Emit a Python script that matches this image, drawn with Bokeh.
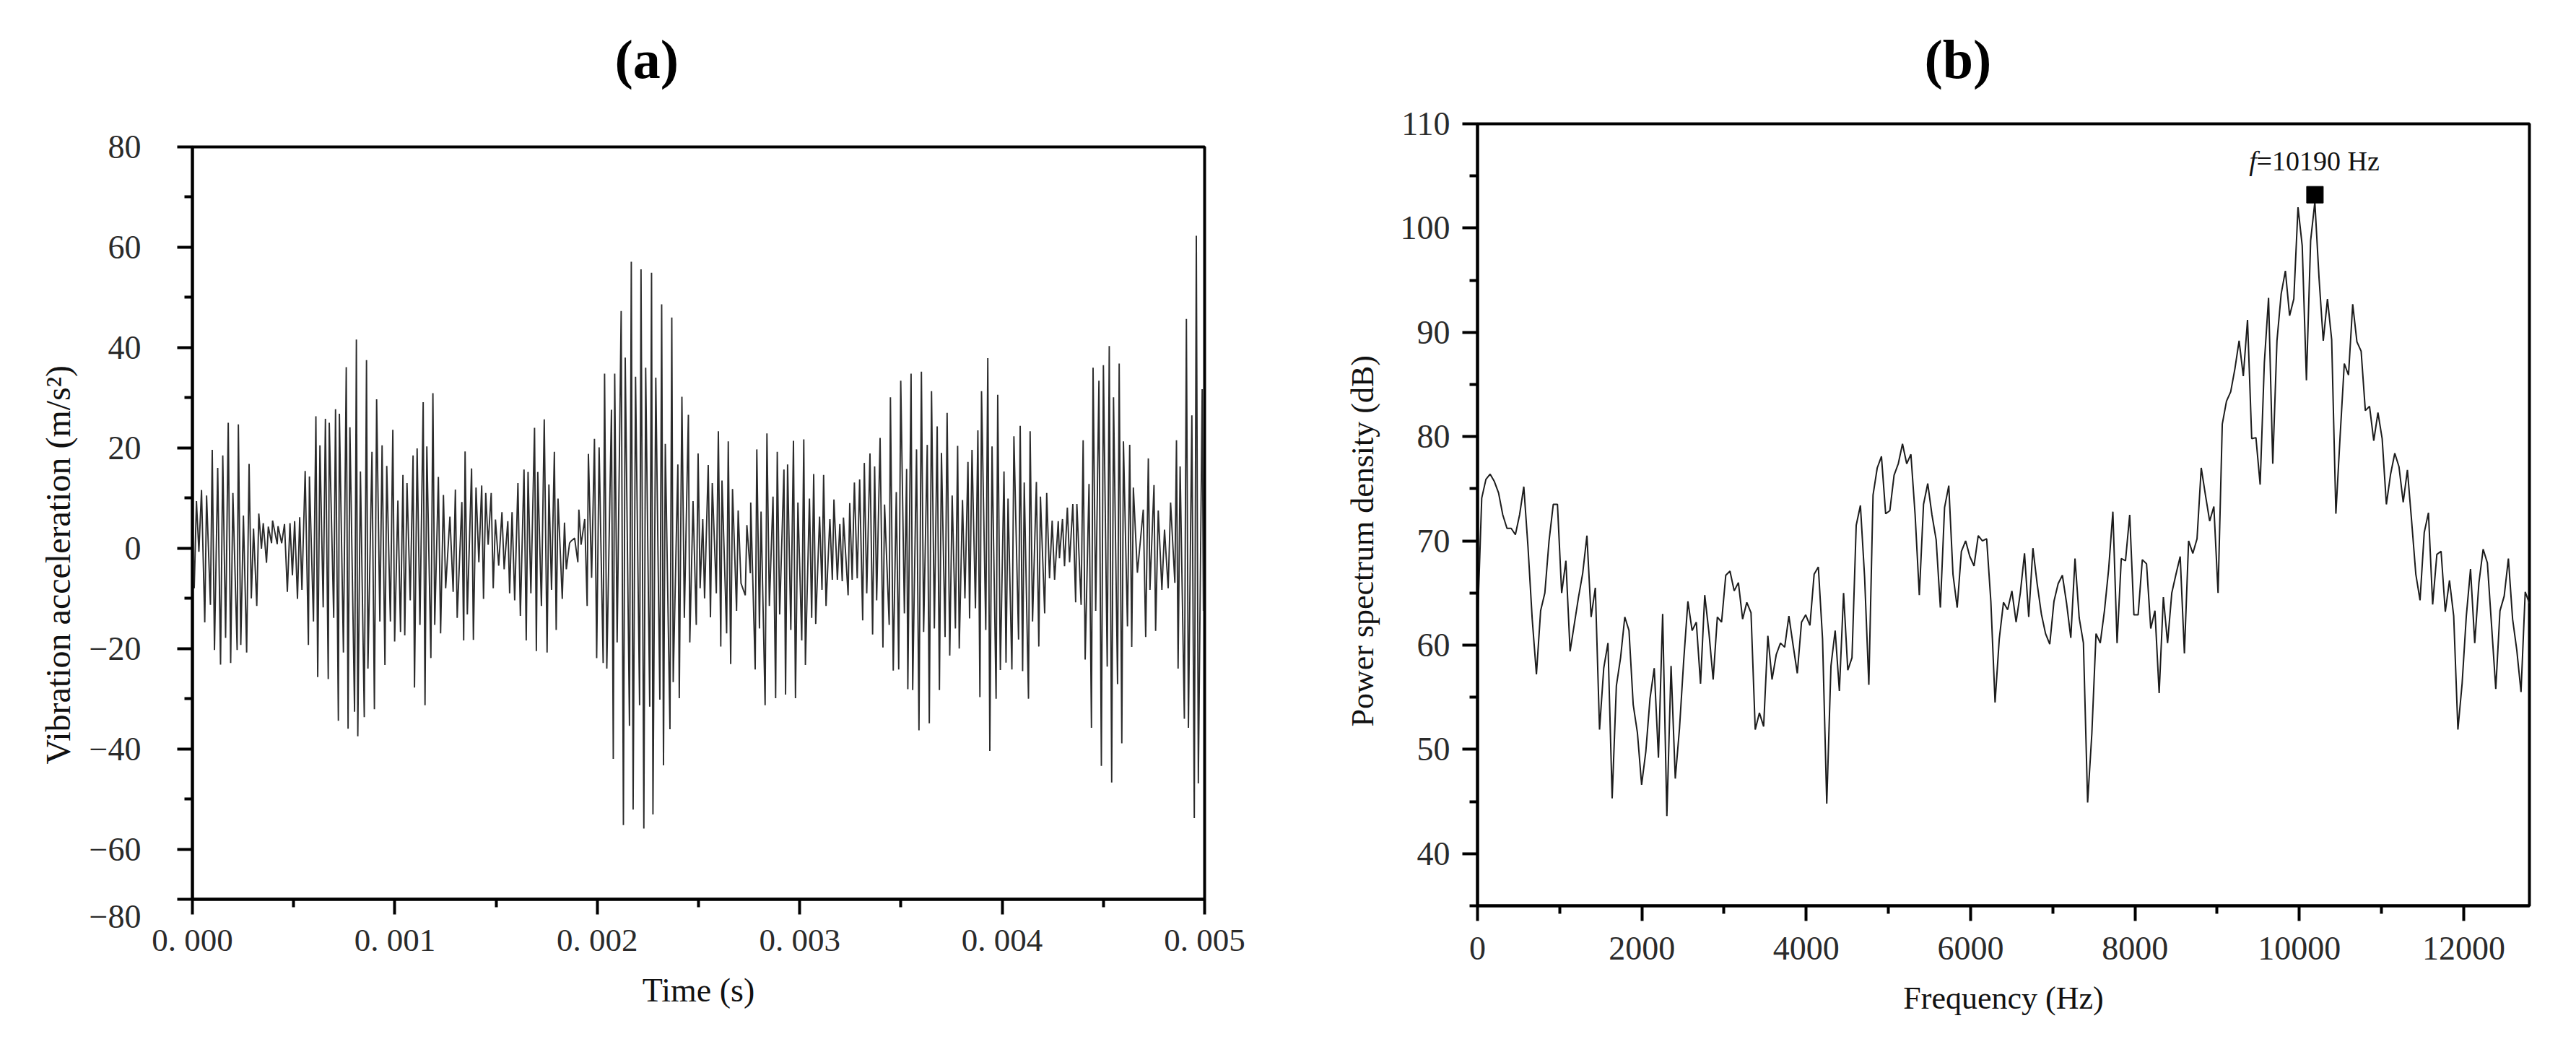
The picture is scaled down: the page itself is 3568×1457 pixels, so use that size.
#! /usr/bin/env python3
# Vibration signal (a) and its power spectrum (b).

from bokeh.core.properties import value
from bokeh.embed import file_html
from bokeh.layouts import row
from bokeh.models import FixedTicker, Title
from bokeh.plotting import figure
from bokeh.resources import INLINE

SERIF = "Liberation Serif"

# (a) upper and lower turning points of the acceleration signal
peak_us = [
    20, 45, 70, 98, 125, 150, 177, 200, 227, 252,
    280, 302, 328, 350, 375, 396, 423, 455, 482, 505,
    530, 557, 578, 610, 630, 657, 676, 707, 726, 760,
    778, 810, 830, 860, 887, 910, 937, 960, 990, 1015,
    1040, 1060, 1090, 1110, 1140, 1158, 1188, 1215, 1240, 1272,
    1299, 1331, 1347, 1379, 1401, 1429, 1449, 1476, 1497, 1529,
    1558, 1579, 1608, 1638, 1658, 1690, 1706, 1738, 1761, 1788,
    1806, 1838, 1863, 1888, 1909, 1938, 1956, 1986, 2009, 2036,
    2070, 2086, 2118, 2138, 2168, 2189, 2216, 2239, 2268, 2289,
    2318, 2336, 2368, 2398, 2418, 2450, 2473, 2498, 2521, 2548,
    2568, 2598, 2616, 2647, 2668, 2696, 2739, 2758, 2788, 2809,
    2838, 2868, 2889, 2922, 2940, 2969, 2991, 3020, 3048, 3069,
    3098, 3118, 3149, 3169, 3198, 3216, 3247, 3270, 3296, 3319,
    3347, 3370, 3397, 3419, 3448, 3477, 3499, 3528, 3550, 3577,
    3601, 3630, 3651, 3679, 3700, 3728, 3753, 3780, 3804, 3831,
    3851, 3880, 3898, 3929, 3950, 3978, 4009, 4029, 4058, 4089,
    4109, 4138, 4169, 4189, 4220, 4247, 4277, 4298, 4322, 4349,
    4369, 4400, 4429, 4449, 4478, 4500, 4529, 4550, 4578, 4599,
    4630, 4648, 4697, 4722, 4750, 4771, 4802, 4832, 4861, 4879,
    4910, 4937, 4959, 4988,
]
peak_accel = [
    9.4, 11.6, 10.5, 19.6, 16, 18.5, 25, 11, 24.7, 6.5,
    16.8, 3.9, 6.9, 5, 4.3, 5.5, 4.4, 4.8, 5, 5.4,
    6.2, 15.4, 14.3, 26.3, 20.5, 25.8, 25, 27.7, 26.8, 36.1,
    24.1, 41.6, 15.3, 37.5, 19.2, 29.7, 20.5, 16.4, 23.6, 9.5,
    14.6, 13, 18.5, 19.9, 29.1, 20.3, 30.9, 14.2, 10.6, 6.3,
    11.7, 9.2, 19.3, 15.9, 12.1, 12.5, 11, 11, 5.7, 7.2,
    5.4, 7.2, 13, 15.7, 15.2, 24, 15.2, 25.7, 12.7, 19.2,
    9.9, 5.1, 1, 2, 7.7, 5.8, 18.8, 21.8, 20.1, 34.8,
    27.6, 34.8, 47.3, 38, 57.1, 34.2, 55.6, 36, 54.9, 34,
    48.6, 20.8, 46, 16.7, 30.2, 26.6, 9.4, 18.9, 5.8, 16.6,
    13, 23.3, 13.5, 21.3, 11.8, 7.5, 4.6, 9.1, 19.7, 7.3,
    22.9, 10.3, 19.2, 15.7, 16.7, 21.4, 9.1, 21.7, 9.9, 14.8,
    6.3, 14.6, 5.8, 9.7, 4.8, 6.1, 9, 13.1, 13.7, 17,
    18.9, 16.3, 22, 8.7, 30.1, 11.2, 33.4, 15.8, 34.8, 19.7,
    35.2, 20.6, 31.3, 24.3, 19, 27, 10.5, 20.4, 9.6, 17.2,
    19.6, 23.5, 31.3, 37.9, 20.3, 30.6, 15.3, 9.9, 22.3, 24.4,
    13.1, 23.3, 13.2, 10.3, 11, 5.5, 5.4, 5.8, 8.1, 8.8,
    8.8, 21.5, 12.8, 36, 33.4, 36.5, 40.3, 30.1, 36.8, 21.3,
    20.6, 12.1, 7.7, 17.9, 12.6, 7.5, 3.7, 9.1, 21.5, 16.3,
    45.7, 26.5, 62.3, 31.7,
]
trough_us = [
    9, 32, 61, 89, 109, 139, 164, 189, 221, 239,
    268, 291, 318, 341, 366, 391, 419, 441, 469, 494,
    519, 541, 573, 598, 619, 646, 671, 698, 721, 746,
    769, 801, 817, 849, 867, 899, 926, 951, 978, 999,
    1028, 1049, 1076, 1097, 1124, 1149, 1178, 1197, 1226, 1251,
    1288, 1308, 1340, 1358, 1388, 1415, 1438, 1461, 1486, 1513,
    1540, 1567, 1592, 1620, 1649, 1672, 1699, 1724, 1752, 1774,
    1797, 1827, 1847, 1870, 1904, 1920, 1950, 1972, 1997, 2029,
    2047, 2079, 2098, 2129, 2159, 2177, 2209, 2230, 2259, 2275,
    2309, 2327, 2359, 2375, 2405, 2430, 2457, 2489, 2508, 2530,
    2559, 2588, 2610, 2639, 2659, 2688, 2710, 2731, 2756, 2780,
    2801, 2829, 2850, 2881, 2901, 2930, 2956, 2979, 3010, 3028,
    3059, 3079, 3110, 3130, 3161, 3186, 3210, 3239, 3259, 3284,
    3311, 3331, 3360, 3380, 3411, 3442, 3462, 3489, 3517, 3534,
    3558, 3589, 3612, 3640, 3665, 3690, 3718, 3741, 3769, 3788,
    3816, 3839, 3868, 3890, 3919, 3939, 3970, 3991, 4019, 4048,
    4081, 4101, 4130, 4150, 4181, 4210, 4234, 4259, 4283, 4308,
    4333, 4363, 4390, 4410, 4441, 4462, 4490, 4519, 4541, 4570,
    4591, 4619, 4640, 4668, 4709, 4730, 4758, 4789, 4820, 4853,
    4869, 4900, 4920, 4949, 4969, 4994,
]
trough_accel = [
    -8, -0.7, -14.8, -11.3, -20.3, -23.2, -17.9, -22.9, -20.3, -19.3,
    -20.8, -10, -11.5, -0.1, -2.9, 1, 0.8, 1, -8.7, -5.4,
    -10.1, -8.3, -19.3, -14.6, -25.7, -11.8, -26.1, -13.9, -34.4, -20.8,
    -36, -32.6, -37.5, -33.7, -24, -32.1, -14.6, -23.3, -14.6, -18.6,
    -16.7, -17.4, -10.4, -27.8, -15.3, -31.3, -21.9, -15.3, -17, -8,
    -8.7, -13.9, -18.4, -13.2, -18.3, -2.8, -10.1, 0.7, -8, -3.5,
    -4.2, -9, -10.4, -13.5, -18.4, -9, -20.5, -11.5, -20.8, -8.3,
    -16.3, -10.1, -4.2, 1.4, -2.8, 0.7, -11.5, -5.9, -21.9, -22.9,
    -24, -42, -18.8, -55.2, -35.4, -52.1, -31.3, -55.9, -31.6, -53.1,
    -30.2, -43.3, -36.1, -26.7, -29.9, -13.9, -18.8, -15.3, -8, -10,
    -13.8, -9, -19.6, -17, -23.1, -12.5, -7, -9.4, -5, -24.2,
    -16, -31.3, -11.5, -29.9, -13.2, -29.2, -16.3, -29.9, -18.4, -23.3,
    -13.9, -15.1, -8.3, -11.5, -6.3, -6.3, -6.6, -9.4, -6.3, -6,
    -14.4, -9, -17.2, -10.4, -19.8, -15.3, -24.4, -24.2, -13, -28.1,
    -28.3, -36.3, -16.7, -34.9, -16, -28.3, -17.7, -21.4, -16, -20,
    -10, -14, -12, -29.7, -16.3, -40.4, -30, -24.3, -22.8, -24.2,
    -18.2, -24.5, -30, -14.6, -19.6, -13, -6, -6.3, -2, -3.6,
    -2.8, -10.8, -11.3, -22.2, -35.8, -12.5, -43.4, -23.6, -46.7, -27.1,
    -38.9, -15.6, -19.7, -4.9, -17.7, -8.3, -16.5, -8.3, -8, -6.9,
    -24, -34, -35.8, -53.8, -46.9, -12.5,
]
time_ticks = [0, 0.001, 0.002, 0.003, 0.004, 0.005]
time_minor = [0.0005, 0.0015, 0.0025, 0.0035, 0.0045]
accel_ticks = [-70, -60, -40, -20, 0, 20, 40, 60, 80]
accel_minor = [-50, -30, -10, 10, 30, 50, 70]

# (b) spectrum, one value per 51.2 Hz bin
psd_bin_hz = 51.2
psd_db = [
    62, 74.1, 75.9, 76.4, 75.7, 74.6, 72.5, 71.2, 71.2, 70.6,
    72.5, 75.2, 69.4, 62.5, 57.2, 63.3, 65, 70, 73.5, 73.5,
    65, 68.1, 59.4, 62, 64.6, 66.9, 70.5, 62.7, 65.5, 51.9,
    57.8, 60.2, 45.3, 56.1, 58.8, 62.7, 61.4, 54.3, 51.6, 46.6,
    49.8, 54.9, 57.8, 49.2, 63, 43.6, 58, 47.2, 52, 58.5,
    64.2, 61.4, 62.2, 56.3, 64.8, 61.2, 56.7, 62.7, 62.2, 66.7,
    67.1, 65.2, 66, 62.5, 64.1, 63.1, 51.9, 53.5, 52.2, 60.9,
    56.7, 59.1, 60.2, 59.8, 62.8, 60, 57.3, 62.2, 62.9, 61.9,
    66.8, 67.5, 60.6, 44.8, 58, 61.4, 55.6, 65, 57.6, 58.8,
    71.5, 73.4, 66.5, 56.2, 74.4, 77, 78.1, 72.6, 72.9, 76.3,
    77.4, 79.3, 77.4, 78.3, 72.5, 64.8, 73.5, 75.5, 72.5, 70.1,
    63.6, 73.2, 75.3, 66.8, 63.6,
    69, 70, 68.5, 67.6, 70.5, 70, 70.2, 64.2, 54.5, 60.6,
    64.1, 63.4, 65.2, 62.2, 65, 68.8, 62.7, 69.3, 65.9, 63,
    61.1, 60.1, 64.2, 65.9, 66.7, 64, 60.7, 68.3, 62.6, 60.2,
    44.9, 51.5, 61.1, 60.2, 63.3, 67.3, 72.8, 60.2, 68.3, 68.1,
    72.5, 62.9, 62.9, 68.2, 67.8, 61.6, 63.3, 55.4, 64.6, 60.2,
    65, 66.8, 68.5, 59.2, 70, 68.8, 70.2, 77, 74.4, 71.9,
    73.3, 65, 81.2, 83.4, 84.3, 86.5, 89.2, 85.8, 91.2, 79.8,
    79.9, 75.4, 87.1, 93.3, 77.4, 89.2, 93.7, 95.9, 91.6, 93.2,
    102, 98.3, 85.4, 98.8, 102.5, 95.2, 89.2, 93.2, 89.3, 72.6,
    80, 87, 85.9, 92.7, 89.1, 88.2, 82.5, 82.9, 79.6, 82.3,
    79.8, 73.5, 76.4, 78.4, 77.1, 73.7, 76.8, 71.9, 66.8, 64.3,
    70.8, 72.7, 63.9, 68.7, 69, 63.2, 66.2, 62.8, 51.9, 56.3,
    62.8, 67.3, 60.2, 66, 69.2, 67.9, 61.9, 55.8, 63.3, 64.7,
    68.3, 62.5, 59.5, 55.5, 65.1, 64,
]
peak_hz = [10190]
peak_db = [103.2]
freq_ticks = [0, 2000, 4000, 6000, 8000, 10000, 12000]
freq_minor = [1000, 3000, 5000, 7000, 9000, 11000]
db_ticks = [40, 50, 60, 70, 80, 90, 100, 110]
db_minor = [35, 45, 55, 65, 75, 85, 95, 105]

assert len(peak_us) == len(peak_accel)
assert len(trough_us) == len(trough_accel)


def style(p, xticks, xminor, yticks, yminor):
    p.grid.visible = False
    p.outline_line_color = "black"
    p.outline_line_width = 4
    p.xaxis.ticker = FixedTicker(ticks=xticks, minor_ticks=xminor)
    p.yaxis.ticker = FixedTicker(ticks=yticks, minor_ticks=yminor)
    for axis in (p.xaxis[0], p.yaxis[0]):
        axis.axis_line_width = 4
        axis.major_tick_line_width = 4
        axis.minor_tick_line_width = 4
        axis.major_tick_in = 0
        axis.minor_tick_in = 0
        axis.major_tick_out = 21
        axis.minor_tick_out = 11
        axis.major_label_text_font = SERIF
        axis.major_label_text_font_size = "46px"
        axis.major_label_text_color = "#2a2a2a"
        axis.axis_label_text_font = SERIF
        axis.axis_label_text_font_style = "normal"
        axis.axis_label_text_font_size = "46px"
        axis.axis_label_text_color = "#111111"


def panel_title(p, text, offset, gap):
    # empty title first, it keeps the panel letter clear of the frame
    p.add_layout(Title(text=" ", text_font_size="1px", standoff=gap), "above")
    p.add_layout(
        Title(
            text=text, align="left", offset=offset, standoff=0, text_font=SERIF,
            text_font_size="76px", text_font_style="bold", text_color="black",
        ),
        "above",
    )


def y_title(p, text, offset, size, standoff):
    p.add_layout(
        Title(
            text=text, align="left", offset=offset, standoff=standoff, text_font=SERIF,
            text_font_size=size, text_font_style="normal", text_color="#111111",
        ),
        "left",
    )


# panel (a)
points = sorted(zip(peak_us + trough_us, peak_accel + trough_accel))
time_s = [t * 1e-6 for t, _ in points]
accel = [v for _, v in points]

fig_a = figure(
    width=1788,
    height=1450,
    x_range=(0, 0.005),
    y_range=(-70, 80),
    output_backend="svg",
    toolbar_location=None,
    frame_align=False,
    min_border_left=266,
    min_border_right=120,
    min_border_top=203,
    min_border_bottom=205,
)
style(fig_a, time_ticks, time_minor, accel_ticks, accel_minor)
fig_a.line(time_s, accel, color="#2b2b2b", line_width=1.9)
fig_a.xaxis.major_label_overrides = {
    t: "0. " + f"{t:.3f}"[2:] for t in time_ticks
}
# the lowest tick carries its label a little below the axis end
fig_a.yaxis.major_label_overrides = {-70: " \n\u221280"}
fig_a.yaxis.major_label_text_line_height = 0.95
fig_a.xaxis.major_label_text_font_size = "45px"
fig_a.xaxis.major_label_standoff = 10
fig_a.xaxis.axis_label = "Time (s)"
fig_a.xaxis.axis_label_standoff = 16
fig_a.yaxis.major_label_standoff = 50
y_title(fig_a, "Vibration  acceleration  (m/s²)", 187, "48px", 28)
panel_title(fig_a, "(a)", 585, 77)

# panel (b)
freq_hz = [i * psd_bin_hz for i in range(len(psd_db))]

fig_b = figure(
    width=1772,
    height=1450,
    x_range=(0, 12800),
    y_range=(35, 110),
    output_backend="svg",
    toolbar_location=None,
    frame_align=False,
    min_border_left=258,
    min_border_right=57,
    min_border_top=171,
    min_border_bottom=196,
)
style(fig_b, freq_ticks, freq_minor, db_ticks, db_minor)
fig_b.line(freq_hz, psd_db, color="#1c1c1c", line_width=2)
fig_b.scatter(peak_hz, peak_db, marker="square", size=23, color="black")
fig_b.xaxis.major_label_standoff = 22
fig_b.xaxis.axis_label = "Frequency (Hz)"
fig_b.xaxis.axis_label_standoff = 26
fig_b.xaxis.axis_label_text_font_size = "44px"
fig_b.yaxis.major_label_standoff = 17
y_title(fig_b, "Power spectrum density (dB)", 248, "44px", 50)
panel_title(fig_b, "(b)", 619, 45)
fig_b.text(
    [9390], [106.4], text=["f"], text_font=value(SERIF), text_font_style="italic",
    text_font_size="38px", text_color="#111111", text_baseline="middle",
)
fig_b.text(
    [9480], [106.4], text=["=10190 Hz"], text_font=value(SERIF),
    text_font_size="38px", text_color="#111111", text_baseline="middle",
)

open("out.html", "w").write(file_html(row(fig_a, fig_b), INLINE))
